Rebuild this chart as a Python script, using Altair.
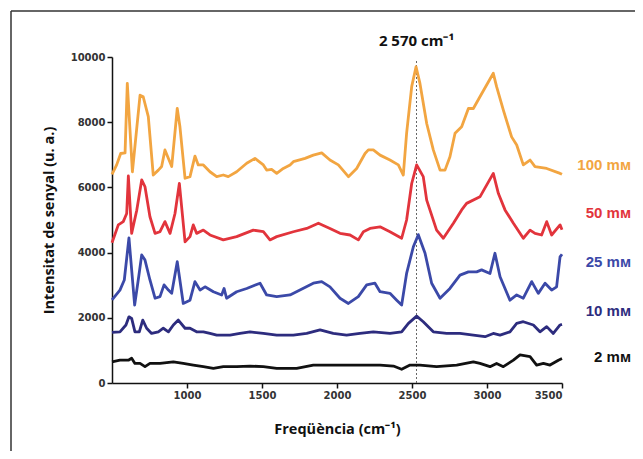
import altair as alt
import pandas as pd

# ---- data ----
series_names = ["100 mᴍ", "50 mᴍ", "25 mᴍ", "10 mᴍ", "2 mᴍ"]
series_colors = ["#f2a541", "#e2343c", "#3b49a8", "#2d2c7e", "#111111"]

s100 = [(500, 6400), (531, 6690), (558, 7040), (587, 7060), (602, 9190), (636, 6480), (687, 8830),
        (708, 8780), (742, 8170), (775, 6380), (809, 6530), (831, 6640), (853, 7150), (898, 6640),
        (935, 8420), (953, 7860), (987, 6280), (1020, 6330), (1053, 6960), (1075, 6690), (1109, 6690),
        (1153, 6480), (1198, 6330), (1242, 6380), (1275, 6330), (1331, 6480), (1398, 6740), (1453, 6890),
        (1509, 6690), (1531, 6530), (1564, 6550), (1598, 6430), (1642, 6580), (1687, 6690), (1709, 6790),
        (1787, 6890), (1842, 6990), (1898, 7060), (1953, 6840), (2009, 6690), (2076, 6330), (2131, 6580),
        (2187, 7040), (2209, 7150), (2242, 7150), (2287, 6990), (2353, 6840), (2409, 6690), (2442, 6380),
        (2464, 7660), (2498, 9090), (2527, 9700), (2553, 9190), (2598, 7960), (2642, 7150), (2687, 6530),
        (2720, 6530), (2753, 6940), (2787, 7660), (2831, 7860), (2876, 8420), (2909, 8420), (2953, 8780),
        (3042, 9500), (3064, 9090), (3109, 8370), (3164, 7550), (3198, 7300), (3242, 6690), (3287, 6840),
        (3320, 6640), (3398, 6580), (3487, 6430), (3500, 6400)]

s50 = [(500, 4300), (542, 4850), (575, 4950), (598, 5200), (609, 6350), (631, 4590), (665, 5300),
       (698, 6230), (720, 6020), (753, 5100), (787, 4590), (820, 4640), (853, 4950), (887, 4590),
       (920, 5200), (949, 6120), (987, 4330), (1020, 4490), (1042, 4850), (1064, 4590), (1109, 4690),
       (1153, 4540), (1242, 4390), (1331, 4490), (1442, 4690), (1509, 4640), (1553, 4390), (1598, 4490),
       (1709, 4640), (1798, 4740), (1876, 4900), (1953, 4740), (2020, 4590), (2087, 4540), (2142, 4390),
       (2176, 4640), (2220, 4740), (2287, 4790), (2353, 4640), (2431, 4440), (2464, 5000), (2498, 6120),
       (2531, 6690), (2575, 6330), (2598, 5610), (2664, 4690), (2709, 4440), (2776, 4900), (2831, 5310),
       (2864, 5510), (2953, 5710), (3042, 6430), (3076, 5810), (3120, 5310), (3176, 4900), (3242, 4440),
       (3287, 4690), (3320, 4590), (3364, 4540), (3398, 4950), (3431, 4540), (3487, 4850), (3500, 4700)]

s25 = [(500, 2550), (553, 2850), (582, 3160), (613, 4450), (651, 2390), (678, 3260), (698, 3930),
       (720, 3770), (753, 3160), (787, 2600), (820, 2650), (847, 3010), (876, 2850), (898, 2750),
       (935, 3720), (975, 2440), (1020, 2540), (1053, 3110), (1087, 2850), (1120, 2950), (1176, 2800),
       (1231, 2700), (1247, 2900), (1264, 2600), (1331, 2800), (1398, 2900), (1487, 3060), (1531, 2700),
       (1598, 2650), (1687, 2700), (1753, 2850), (1842, 3060), (1898, 3110), (1953, 2950), (2020, 2600),
       (2076, 2440), (2142, 2650), (2198, 3010), (2253, 3060), (2287, 2800), (2353, 2750), (2398, 2540),
       (2431, 2390), (2464, 3360), (2509, 4180), (2542, 4550), (2587, 3980), (2631, 3060), (2687, 2600),
       (2753, 2900), (2820, 3310), (2876, 3410), (2931, 3410), (2964, 3470), (3020, 3360), (3053, 3980),
       (3087, 3260), (3153, 2540), (3198, 2700), (3242, 2600), (3298, 3110), (3342, 2750), (3387, 3060),
       (3431, 2850), (3464, 2950), (3487, 3870), (3500, 3950)]

s10 = [(500, 1550), (553, 1570), (593, 1780), (613, 2030), (631, 1980), (653, 1570), (682, 1570),
       (705, 1930), (731, 1680), (764, 1520), (809, 1570), (842, 1680), (876, 1570), (909, 1780),
       (942, 1930), (987, 1680), (1020, 1680), (1064, 1570), (1109, 1570), (1153, 1520), (1198, 1470),
       (1287, 1470), (1353, 1520), (1420, 1570), (1509, 1520), (1598, 1470), (1709, 1470), (1798, 1520),
       (1887, 1630), (1975, 1520), (2064, 1470), (2153, 1520), (2242, 1570), (2353, 1520), (2431, 1570),
       (2476, 1830), (2531, 2050), (2575, 1880), (2642, 1570), (2731, 1520), (2820, 1520), (2909, 1470),
       (2987, 1420), (3042, 1520), (3087, 1470), (3153, 1570), (3198, 1830), (3242, 1880), (3309, 1780),
       (3353, 1570), (3398, 1730), (3442, 1520), (3487, 1780), (3500, 1800)]

s2 = [(500, 650), (553, 700), (609, 700), (631, 760), (653, 600), (687, 600), (720, 500), (753, 600),
      (820, 600), (909, 650), (975, 600), (1042, 550), (1109, 500), (1176, 450), (1242, 500), (1331, 500),
      (1420, 520), (1509, 500), (1598, 450), (1687, 450), (1731, 450), (1842, 550), (1953, 550),
      (2064, 550), (2176, 550), (2287, 550), (2376, 520), (2431, 420), (2487, 550), (2553, 550),
      (2664, 500), (2798, 550), (2909, 650), (2953, 600), (3020, 500), (3064, 600), (3109, 500),
      (3176, 700), (3220, 860), (3287, 810), (3331, 550), (3376, 600), (3420, 550), (3476, 700), (3500, 750)]

label_y = [6690, 5210, 3710, 2210, 800]
peak_freq = 2530
peak_label = "2 570 cm⁻¹"
x_ticks = [1000, 1500, 2000, 2500, 3000, 3500]
y_ticks = [0, 2000, 4000, 6000, 8000, 10000]

# ---- build tables ----
rows = []
for name, pts in zip(series_names, [s100, s50, s25, s10, s2]):
    for f, v in pts:
        rows.append({"freq": f, "intensity": v, "series": name})
df = pd.DataFrame(rows)
labels_df = pd.DataFrame({"series": series_names, "y": label_y, "x": [3500] * 5})
peak_df = pd.DataFrame({"x": [peak_freq], "y0": [0], "y1": [9900], "ty": [10480], "text": [peak_label]})

color_scale = alt.Scale(domain=series_names, range=series_colors)
xs = alt.Scale(domain=[500, 3500], nice=False, zero=False)
ys = alt.Scale(domain=[0, 10000], nice=False)

lines = alt.Chart(df).mark_line(strokeWidth=2.8, strokeJoin="round").encode(
    x=alt.X("freq:Q", scale=xs,
            axis=alt.Axis(values=x_ticks, title="Freqüència (cm⁻¹)", format="d", titlePadding=22)),
    y=alt.Y("intensity:Q", scale=ys,
            axis=alt.Axis(values=y_ticks, title="Intensitat de senyal (u. a.)", format="d", titlePadding=14)),
    color=alt.Color("series:N", scale=color_scale, legend=None),
    detail="series:N",
)

peak_rule = alt.Chart(peak_df).mark_rule(color="#666666", strokeWidth=1, strokeDash=[2, 2]).encode(
    x=alt.X("x:Q", scale=xs), y=alt.Y("y0:Q", scale=ys), y2="y1:Q"
)
peak_text = alt.Chart(peak_df).mark_text(
    font="Open Sans", fontWeight="bold", fontSize=15, color="#111111", clip=False
).encode(x=alt.X("x:Q", scale=xs), y=alt.Y("ty:Q", scale=ys), text="text:N")

labels = alt.Chart(labels_df).mark_text(
    font="Liberation Sans", fontWeight="bold", fontSize=15, align="right", dx=69, clip=False
).encode(
    x=alt.X("x:Q", scale=xs), y=alt.Y("y:Q", scale=ys), text="series:N",
    color=alt.Color("series:N", scale=color_scale, legend=None),
)

frame_df = pd.DataFrame({"k": [0]})
frame_left = alt.Chart(frame_df).mark_rule(color="#333333", strokeWidth=1.5).encode(
    x=alt.value(-101), y=alt.value(-46), y2=alt.value(410)
)
frame_top = alt.Chart(frame_df).mark_rule(color="#333333", strokeWidth=1.5).encode(
    x=alt.value(-101), x2=alt.value(540), y=alt.value(-46)
)

chart = alt.layer(frame_left, frame_top, peak_rule, lines, peak_text, labels).properties(
    width=450, height=326,
    autosize=alt.AutoSizeParams(type="none"),
    padding={"left": 104, "top": 49, "right": 73, "bottom": 68},
).configure_view(stroke=None).configure_axis(
    grid=False,
    domainColor="#111111", domainWidth=1.5,
    tickColor="#111111", tickWidth=1.5, tickSize=5,
    labelFont="DejaVu Sans", labelFontWeight="bold", labelFontSize=10, labelColor="#333333",
    titleFont="Open Sans", titleFontWeight="bold", titleFontSize=14.5, titleColor="#111111",
)

chart.save("out.html", embed_options={"renderer": "svg", "actions": False})
